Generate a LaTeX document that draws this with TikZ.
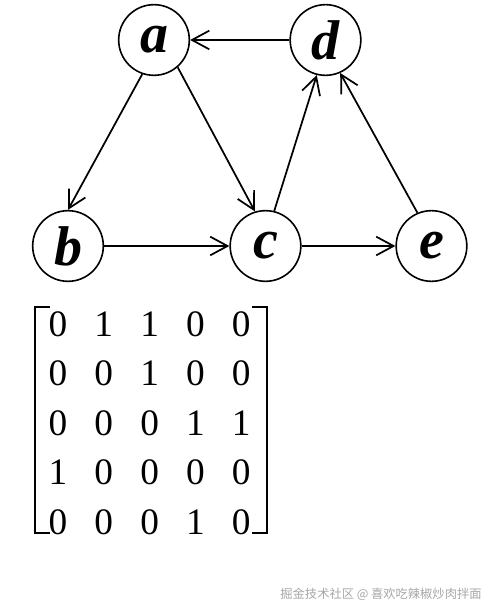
\documentclass[tikz,border=0pt]{standalone}
\usepackage{fontspec}
\setmainfont{Liberation Serif}
\newfontfamily\cjk{Noto Sans CJK SC}
\usetikzlibrary{arrows.meta}
\tikzset{
  px/.style={x=0.75pt,y=-0.75pt},
  vertex/.style={circle,draw,line width=1.2pt,inner sep=0pt,minimum size=53pt,
    font=\fontsize{42}{42}\selectfont\bfseries\itshape},
  edge/.style={line width=1.3pt,-{Straight Barb[length=13pt,width=14pt,line width=1.3pt]}},
  entry/.style={inner sep=0pt,font=\fontsize{28}{28}\selectfont},
  bracket/.style={line width=1.4pt}
}

\begin{document}
\begin{tikzpicture}[px]
    \useasboundingbox (0,0) rectangle (494,616);
    % vertices
    \node[vertex] (a) at (154,40)    {a};
    \node[vertex] (d) at (325.5,40)  {d};
    \node[vertex] (b) at (68,246)    {b};
    \node[vertex] (c) at (265.5,246) {c};
    \node[vertex] (e) at (431.5,246) {e};
    % arcs
    \draw[edge] (d.west) -- (a.east);
    \draw[edge] (a.251) -- (b.90);
    \draw[edge] (a.311) -- (c.107);
    \draw[edge] (b.east) -- (c.west);
    \draw[edge] (c.east) -- (e.west);
    \draw[edge] (c.76)  -- (d.256);
    \draw[edge] (e.113) -- (d.294);
    % adjacency matrix
    \foreach \row [count=\i] in {{0,1,1,0,0},{0,0,1,0,0},{0,0,0,1,1},{1,0,0,0,0},{0,0,0,1,0}}
      \foreach \val [count=\j] in \row
        \node[entry] (m\i\j) at ({12.2+45.8*\j},{274.5+49.5*\i}) {\val};
    \draw[bracket] (50,307) -- (35,307) -- (35,533) -- (50,533);
    \draw[bracket] (252,307) -- (267,307) -- (267,533) -- (252,533);
    % watermark
    \node[gray!70,font=\cjk\fontsize{9.2}{9.2}\selectfont] (wm) at (381,594) {掘金技术社区 @ 喜欢吃辣椒炒肉拌面};
\end{tikzpicture}
\end{document}
